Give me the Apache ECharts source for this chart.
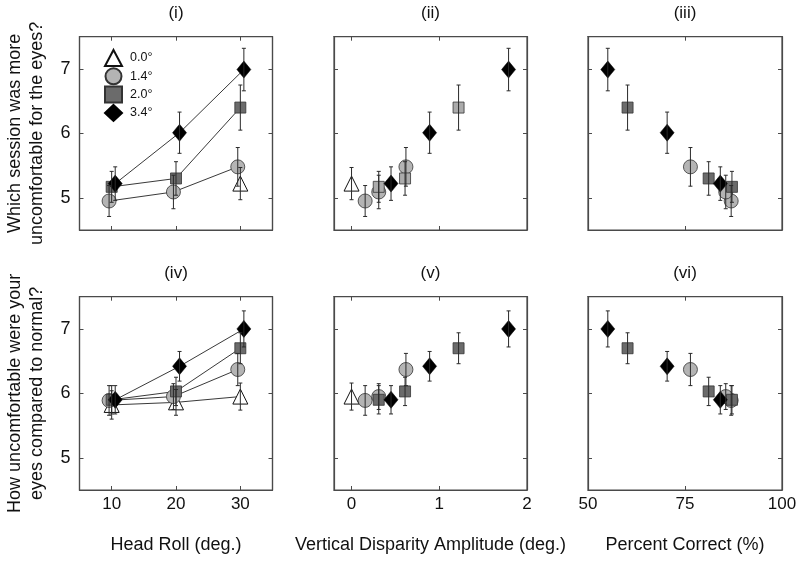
<!DOCTYPE html>
<html>
<head>
<meta charset="utf-8">
<script src="https://cdn.jsdelivr.net/npm/echarts@6/dist/echarts.min.js"></script>
<style>
  html, body { margin: 0; padding: 0; background: #fff; }
  #chart { width: 800px; height: 561px; }
</style>
</head>
<body>
<div id="chart"></div>
<script>
// ---------------- DATA ----------------
const conditionNames = ['0.0°', '1.4°', '2.0°', '3.4°'];
const headRoll = [10, 20, 30];

// Vertical disparity amplitude (deg.) for each head roll (10, 20, 30)
const vdaTri  = [null, null, 0];
const vdaCirc = [0.155, 0.31, 0.62];
const vdaSq   = [0.31, 0.61, 1.22];
const vdaDia  = [0.45, 0.89, 1.79];

// Percent correct (%) for each head roll
const pcTri  = [null, null, null];
const pcCirc = [86.9, 85.5, 76.4];
const pcSq   = [87.1, 81.1, 60.2];
const pcDia  = [84.1, 70.4, 55.1];

// Q1: Which session was more uncomfortable for the eyes?
const q1Tri  = [null, null, 5.22];
const q1Circ = [4.95, 5.09, 5.48];
const q1Sq   = [5.17, 5.30, 6.40];
const q1Dia  = [5.22, 6.01, 6.99];
const q1TriErr  = [null, null, 0.25];
const q1CircErr = [0.24, 0.26, 0.30];
const q1SqErr   = [0.24, 0.26, 0.35];
const q1DiaErr  = [0.26, 0.32, 0.33];

// Q2: How uncomfortable were your eyes compared to normal?
const q2Tri  = [5.82, 5.86, 5.95];
const q2Circ = [5.89, 5.95, 6.37];
const q2Sq   = [5.90, 6.03, 6.70];
const q2Dia  = [5.90, 6.42, 7.00];
const q2TriErr  = [0.22, 0.20, 0.21];
const q2CircErr = [0.23, 0.20, 0.25];
const q2SqErr   = [0.22, 0.22, 0.24];
const q2DiaErr  = [0.22, 0.23, 0.28];

// Tick labels
const yTicks = [5, 6, 7];
const rollTicks = [10, 20, 30];
const vdaTicks = [0, 1, 2];
const pcTicks = [50, 75, 100];

const panelTitles = ['(i)', '(ii)', '(iii)', '(iv)', '(v)', '(vi)'];
const xTitles = ['Head Roll (deg.)', 'Vertical Disparity Amplitude (deg.)', 'Percent Correct (%)'];
const yTitles = [['Which session was more', 'uncomfortable for the eyes?'],
                 ['How uncomfortable were your', 'eyes compared to normal?']];

// ---------------- STYLE / LAYOUT ----------------
const FONT = '"Liberation Sans", Arial, Helvetica, sans-serif';
const colLeft = [79.5, 334, 588];
const colWidth = [193, 193, 194];
const rowTop = [36.7, 296.7];
const rowHeight = 193.3;
const xRanges = [[5, 35], [-0.2, 2], [50, 100]];
const xTickSets = [rollTicks, vdaTicks, pcTicks];
const frameColor = '#4a4a4a';

const conds = [
  { name: conditionNames[0], symbol: 'triangle', size: 15, fill: '#ffffff', border: '#111', bw: 1, jitter: 0,
    vda: vdaTri, pc: pcTri, q1: q1Tri, q1e: q1TriErr, q2: q2Tri, q2e: q2TriErr },
  { name: conditionNames[1], symbol: 'circle', size: 14, fill: '#b4b4b4', border: '#333', bw: 0.8, jitter: -0.4,
    vda: vdaCirc, pc: pcCirc, q1: q1Circ, q1e: q1CircErr, q2: q2Circ, q2e: q2CircErr },
  { name: conditionNames[2], symbol: 'rect', size: 11, fill: '#6b6b6b', border: '#333', bw: 0.8, jitter: 0,
    vda: vdaSq, pc: pcSq, q1: q1Sq, q1e: q1SqErr, q2: q2Sq, q2e: q2SqErr },
  { name: conditionNames[3], symbol: 'diamond', size: [14, 17], fill: '#000000', border: '#000', bw: 0.5, jitter: 0.55,
    vda: vdaDia, pc: pcDia, q1: q1Dia, q1e: q1DiaErr, q2: q2Dia, q2e: q2DiaErr }
];

const grids = [], xAxes = [], yAxes = [], series = [], graphics = [];

for (let p = 0; p < 6; p++) {
  const r = Math.floor(p / 3), c = p % 3;
  grids.push({ left: colLeft[c], top: rowTop[r], width: colWidth[c], height: rowHeight,
               show: true, borderColor: frameColor, borderWidth: 1.2, backgroundColor: 'transparent' });
}

function xAxisCfg(p, position) {
  const r = Math.floor(p / 3), c = p % 3;
  const isBottom = position === 'bottom';
  return {
    type: 'value', gridIndex: p, position: position,
    min: xRanges[c][0], max: xRanges[c][1],
    axisLine: { show: true, onZero: false, lineStyle: { color: frameColor, width: 1.2 } },
    axisTick: { show: true, inside: true, length: 4, customValues: xTickSets[c], lineStyle: { color: frameColor, width: 1 } },
    axisLabel: { show: isBottom && r === 1, customValues: xTickSets[c], margin: 6,
                 fontSize: 17, color: '#111', fontFamily: FONT },
    splitLine: { show: false },
    name: (isBottom && r === 1) ? xTitles[c] : '',
    nameLocation: 'middle', nameGap: 46,
    nameTextStyle: { fontSize: 18, color: '#111', fontFamily: FONT }
  };
}
function yAxisCfg(p, position) {
  const c = p % 3;
  const isLeft = position === 'left';
  return {
    type: 'value', gridIndex: p, position: position,
    min: 4.5, max: 7.5,
    axisLine: { show: true, onZero: false, lineStyle: { color: frameColor, width: 1.2 } },
    axisTick: { show: true, inside: true, length: 4, customValues: yTicks, lineStyle: { color: frameColor, width: 1 } },
    axisLabel: { show: isLeft && c === 0, customValues: yTicks, margin: 9,
                 fontSize: 18, color: '#111', fontFamily: FONT },
    splitLine: { show: false }
  };
}
for (let p = 0; p < 6; p++) { xAxes.push(xAxisCfg(p, 'bottom')); yAxes.push(yAxisCfg(p, 'left')); }
for (let p = 0; p < 6; p++) { xAxes.push(xAxisCfg(p, 'top')); yAxes.push(yAxisCfg(p, 'right')); }

function errRender(params, api) {
  const x = api.value(0), y = api.value(1), e = api.value(2);
  const t = api.coord([x, y + e]);
  const b = api.coord([x, y - e]);
  const cw = 2;
  const st = { stroke: '#2a2a2a', lineWidth: 1 };
  return {
    type: 'group',
    children: [
      { type: 'line', shape: { x1: t[0], y1: t[1], x2: b[0], y2: b[1] }, style: st },
      { type: 'line', shape: { x1: t[0] - cw, y1: t[1], x2: t[0] + cw, y2: t[1] }, style: st },
      { type: 'line', shape: { x1: b[0] - cw, y1: b[1], x2: b[0] + cw, y2: b[1] }, style: st }
    ]
  };
}

for (let p = 0; p < 6; p++) {
  const r = Math.floor(p / 3), c = p % 3;
  if (c === 0) {
    conds.forEach(cd => {
      const ys = r === 0 ? cd.q1 : cd.q2;
      const pts = [];
      headRoll.forEach((h, i) => { if (ys[i] != null) pts.push([h + cd.jitter, ys[i]]); });
      if (pts.length > 1) {
        series.push({ type: 'line', name: 'line ' + cd.name + ' ' + p, xAxisIndex: p, yAxisIndex: p,
          data: pts, showSymbol: false, symbol: 'none', silent: true, z: 1,
          lineStyle: { color: '#222', width: 0.9 } });
      }
    });
  }
  conds.forEach((cd, k) => {
    const ys = r === 0 ? cd.q1 : cd.q2;
    const es = r === 0 ? cd.q1e : cd.q2e;
    const xs = c === 0 ? headRoll.map(h => h + cd.jitter) : (c === 1 ? cd.vda : cd.pc);
    const pts = [];
    xs.forEach((x, i) => { if (x != null && ys[i] != null) pts.push([x, ys[i], es[i]]); });
    if (!pts.length) return;
    let fill = cd.fill;
    if (p === 1 && k === 2) fill = '#ababab'; // lighter squares in panel (ii)
    series.push({ type: 'scatter', name: p === 0 ? cd.name : cd.name + ' p' + p,
      xAxisIndex: p, yAxisIndex: p, data: pts, symbol: cd.symbol, symbolSize: cd.size, z: 2,
      itemStyle: { color: fill, borderColor: cd.border, borderWidth: cd.bw, opacity: 1 },
      emphasis: { disabled: true } });
    series.push({ type: 'custom', name: 'err ' + cd.name + ' ' + p, xAxisIndex: p, yAxisIndex: p,
      data: pts, renderItem: errRender, encode: { x: 0, y: 1 }, z: 3, silent: true });
  });

  graphics.push({ type: 'text', x: colLeft[c] + colWidth[c] / 2, y: rowTop[r] - 23,
    style: { text: panelTitles[p], fontSize: 17, fontFamily: FONT, fill: '#111',
             textAlign: 'center', textVerticalAlign: 'middle', align: 'center', verticalAlign: 'middle' } });
}

[0, 1].forEach(r => {
  const cy = rowTop[r] + rowHeight / 2;
  [15, 37].forEach((x, li) => {
    graphics.push({ type: 'text', x: x, y: cy, rotation: Math.PI / 2,
      style: { text: yTitles[r][li], fontSize: 18, fontFamily: FONT, fill: '#111',
               textAlign: 'center', textVerticalAlign: 'middle', align: 'center', verticalAlign: 'middle' } });
  });
});

const chart = echarts.init(document.getElementById('chart'), null, { renderer: 'canvas' });
chart.setOption({
  animation: false,
  backgroundColor: '#ffffff',
  textStyle: { fontFamily: FONT },
  grid: grids,
  xAxis: xAxes,
  yAxis: yAxes,
  legend: {
    data: conditionNames, orient: 'vertical', left: 99, top: 44,
    itemWidth: 17, itemHeight: 16, itemGap: 0.3, selectedMode: false,
    textStyle: { fontSize: 12.5, color: '#111', fontFamily: FONT, padding: [0, 0, 0, 3] }
  },
  graphic: graphics,
  series: series
});
</script>
</body>
</html>
